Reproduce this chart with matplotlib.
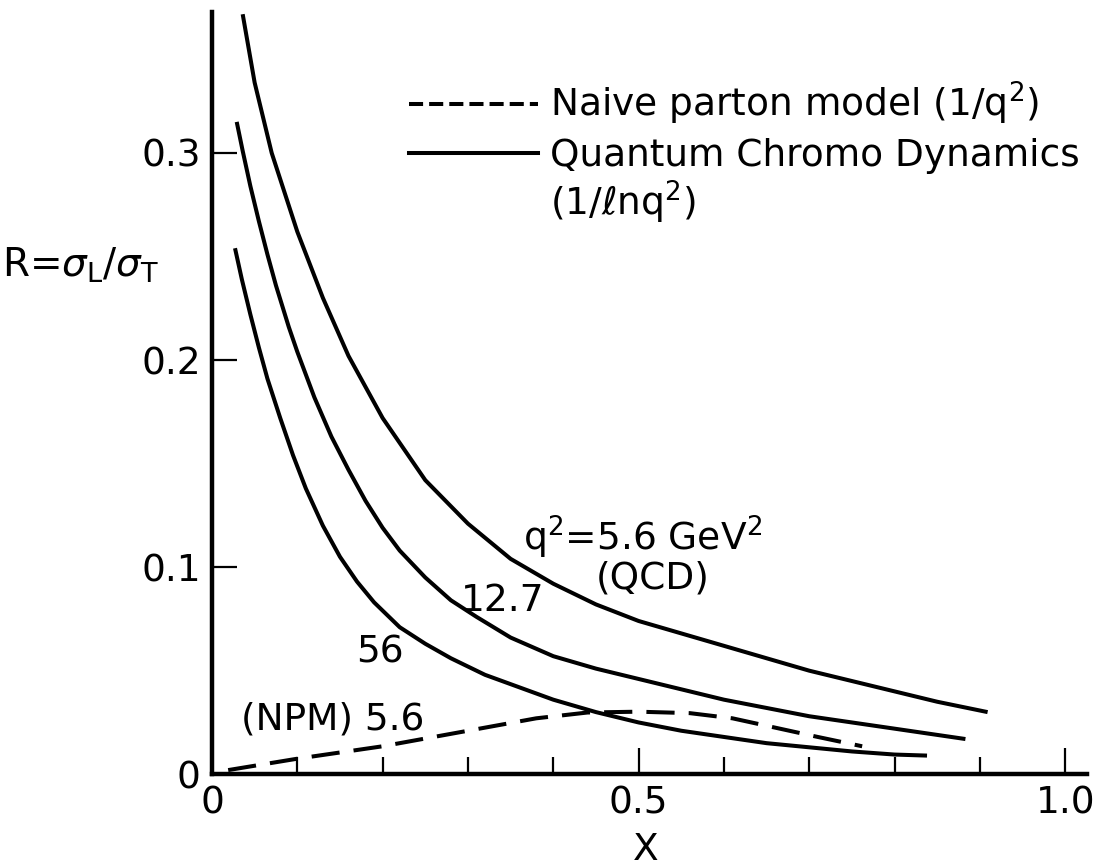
import matplotlib
matplotlib.use("Agg")
import matplotlib.pyplot as plt
from matplotlib.lines import Line2D
from matplotlib.ticker import FixedLocator

plt.rcParams['font.family'] = ['DejaVu Sans']
plt.rcParams['mathtext.fontset'] = 'dejavusans'

# QCD curves for q^2 = 5.6, 12.7 and 56 GeV^2
x_qcd_5_6 = [0.036, 0.05, 0.07, 0.10, 0.13, 0.16, 0.20, 0.25, 0.30, 0.35, 0.40,
             0.45, 0.50, 0.55, 0.60, 0.65, 0.70, 0.75, 0.80, 0.85, 0.909]
r_qcd_5_6 = [0.367, 0.334, 0.300, 0.262, 0.230, 0.202, 0.172, 0.142, 0.121, 0.104, 0.092,
             0.082, 0.074, 0.068, 0.062, 0.056, 0.050, 0.045, 0.040, 0.035, 0.030]

x_qcd_12_7 = [0.029, 0.036, 0.045, 0.055, 0.065, 0.075, 0.09, 0.10, 0.12, 0.14, 0.16,
              0.18, 0.20, 0.22, 0.25, 0.28, 0.31, 0.35, 0.40, 0.45, 0.50, 0.55, 0.60,
              0.65, 0.70, 0.75, 0.80, 0.883]
r_qcd_12_7 = [0.315, 0.301, 0.284, 0.267, 0.251, 0.236, 0.216, 0.204, 0.182, 0.163, 0.147,
              0.132, 0.119, 0.108, 0.095, 0.084, 0.076, 0.066, 0.057, 0.051, 0.046, 0.041, 0.036,
              0.032, 0.028, 0.025, 0.022, 0.017]

x_qcd_56 = [0.027, 0.035, 0.045, 0.055, 0.065, 0.080, 0.095, 0.11, 0.13, 0.15, 0.17,
            0.19, 0.22, 0.25, 0.28, 0.32, 0.36, 0.40, 0.45, 0.50, 0.55, 0.60, 0.65,
            0.70, 0.75, 0.80, 0.838]
r_qcd_56 = [0.254, 0.239, 0.222, 0.206, 0.191, 0.172, 0.154, 0.138, 0.120, 0.105, 0.093,
            0.083, 0.071, 0.063, 0.056, 0.048, 0.042, 0.036, 0.030, 0.025, 0.021, 0.018, 0.015,
            0.013, 0.011, 0.0095, 0.009]

# naive parton model, q^2 = 5.6 GeV^2
x_npm = [0.019, 0.10, 0.20, 0.30, 0.38, 0.44, 0.50, 0.56, 0.61, 0.66, 0.71, 0.762]
r_npm = [0.002, 0.0075, 0.0135, 0.021, 0.027, 0.0298, 0.0302, 0.0295, 0.027, 0.0225, 0.018, 0.0135]

x_major = [0, 0.5, 1.0]
x_major_labels = ['0', '0.5', '1.0']
x_minor = [0.1, 0.2, 0.3, 0.4, 0.6, 0.7, 0.8, 0.9]
y_ticks = [0, 0.1, 0.2, 0.3]
y_tick_labels = ['0', '0.1', '0.2', '0.3']

fig = plt.figure(figsize=(11.04, 8.67), dpi=100)
ax = fig.add_axes([0.192, 0.107, 0.793, 0.879])

lw = 2.9
line_kw = dict(color='black', lw=lw, solid_capstyle='butt', solid_joinstyle='round')
ax.plot(x_qcd_5_6, r_qcd_5_6, **line_kw)
ax.plot(x_qcd_12_7, r_qcd_12_7, **line_kw)
ax.plot(x_qcd_56, r_qcd_56, **line_kw)
ax.plot(x_npm, r_npm, color='black', lw=lw, dashes=(7, 3.5))

ax.set_xlim(0, 1.026)
ax.set_ylim(0, 0.368)

for side in ['top', 'right']:
    ax.spines[side].set_visible(False)
for side in ['left', 'bottom']:
    ax.spines[side].set_linewidth(3.2)

ax.xaxis.set_major_locator(FixedLocator(x_major))
ax.xaxis.set_minor_locator(FixedLocator(x_minor))
ax.set_xticklabels(x_major_labels)
ax.set_yticks(y_ticks)
ax.set_yticklabels(y_tick_labels)
ax.tick_params(axis='x', which='major', direction='in', length=19, width=1.6,
               labelsize=27, pad=8)
ax.tick_params(axis='x', which='minor', direction='in', length=12, width=1.6)
ax.tick_params(axis='y', direction='in', length=18, width=1.6, labelsize=27, pad=8)

ax.set_xlabel('X', fontsize=27)
ax.xaxis.set_label_coords(0.495, -0.076)
fig.text(0.002, 0.694, r'R=$\sigma_\mathrm{L}/\sigma_\mathrm{T}$', fontsize=28,
         ha='left', va='center')

# curve annotations
ax.text(0.505, 0.1145, r'q$^2$=5.6 GeV$^2$', fontsize=27, ha='center', va='center')
ax.text(0.516, 0.0947, '(QCD)', fontsize=27, ha='center', va='center')
ax.text(0.341, 0.0836, '12.7', fontsize=27, ha='center', va='center')
ax.text(0.197, 0.059, '56', fontsize=27, ha='center', va='center')
ax.text(0.142, 0.0266, '(NPM) 5.6', fontsize=27, ha='center', va='center')

handles = [Line2D([], [], color='black', lw=lw, dashes=(3.5, 1.5)),
           Line2D([], [], color='black', lw=lw)]
labels = [r'Naive parton model (1/q$^2$)', 'Quantum Chromo Dynamics']
ax.legend(handles, labels, loc='upper left', bbox_to_anchor=(0.225, 0.911),
          frameon=False, fontsize=27, handlelength=3.45, handletextpad=0.3,
          labelspacing=0.3, borderpad=0, borderaxespad=0)
ax.text(0.386, 0.750, r'(1/$\ell$nq$^2$)', fontsize=27, ha='left', va='center',
        transform=ax.transAxes)

fig.savefig('out.png', dpi=100, facecolor='white')
